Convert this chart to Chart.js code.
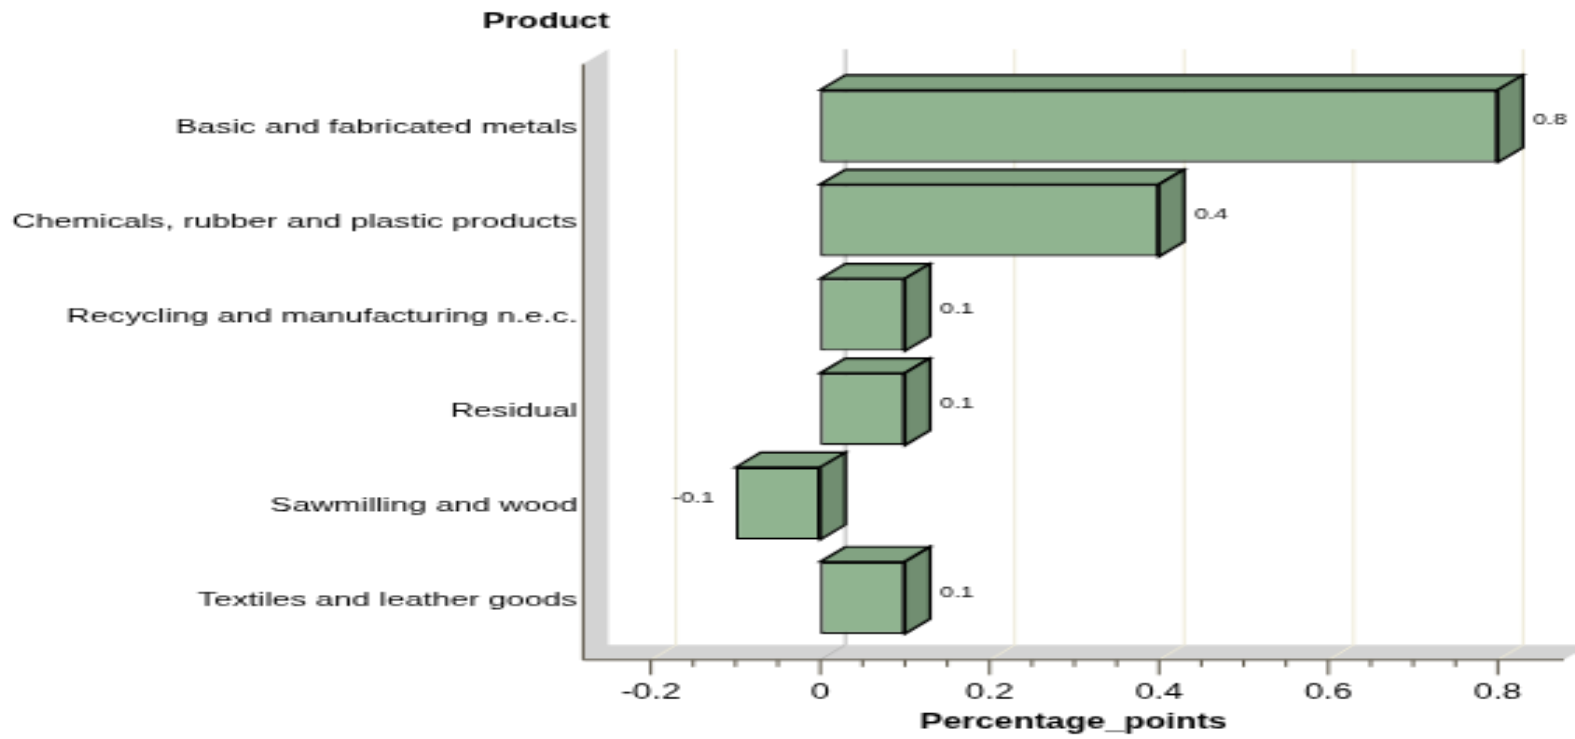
<!DOCTYPE html>
<html>
<head>
<meta charset="utf-8">
<title>Percentage points by product</title>
<script src="https://cdn.jsdelivr.net/npm/chart.js@4"></script>
<style>
  html, body { margin: 0; padding: 0; background: #fff; }
  html { overflow: hidden; }
  body { width: 1575px; height: 739px; }
  /* the original is a small image blown up unevenly, so the chart is drawn small and stretched */
  #stage { width: 563px; height: 422px; transform: scale(2.79751, 1.75118); transform-origin: 0 0; }
</style>
</head>
<body>
<div id="stage"><canvas id="bar-chart" width="563" height="422"></canvas></div>
<script>
const categories = [
  "Basic and fabricated metals",
  "Chemicals, rubber and plastic products",
  "Recycling and manufacturing n.e.c.",
  "Residual",
  "Sawmilling and wood",
  "Textiles and leather goods"
];
const values = [0.8, 0.4, 0.1, 0.1, -0.1, 0.1];
const xTicks = [-0.2, 0, 0.2, 0.4, 0.6, 0.8];
const xMinorStep = 0.05;
const yTitle = "Product";
const xTitle = "Percentage_points";

const fontFamily = "'Liberation Sans', Arial, sans-serif";
const depthX = 9;
const depthY = 8.5;
const axisColor = "#5c5648";
const edgeWidth = 1.2;

function roundTick(v) {
  return Math.round(v * 100) / 100;
}

function poly(ctx, pts, fill, stroke) {
  ctx.beginPath();
  pts.forEach(function (p, i) {
    if (i === 0) ctx.moveTo(p[0], p[1]); else ctx.lineTo(p[0], p[1]);
  });
  ctx.closePath();
  if (fill) { ctx.fillStyle = fill; ctx.fill(); }
  if (stroke) { ctx.strokeStyle = stroke; ctx.lineWidth = edgeWidth; ctx.stroke(); }
}

// wall, floor, back grid lines and the depth faces of the bars
const box3d = {
  id: "box3d",
  beforeDatasetsDraw: function (chart) {
    const ctx = chart.ctx;
    const area = chart.chartArea;
    const x = chart.scales.x;
    const axisY = area.bottom + depthY;
    ctx.save();

    poly(ctx, [
      [area.left, area.top - depthY],
      [area.left + depthX, area.top - depthY * 2],
      [area.left + depthX, area.bottom],
      [area.right + depthX, area.bottom],
      [area.right, axisY],
      [area.left, axisY]
    ], "#d3d3d3");

    xTicks.forEach(function (v) {
      const px = x.getPixelForValue(v);
      ctx.beginPath();
      ctx.moveTo(px, axisY);
      ctx.lineTo(px + depthX, area.bottom);
      ctx.lineTo(px + depthX, area.top - depthY * 2);
      ctx.strokeStyle = v === 0 ? "#b9b9b9" : "#eeead8";
      ctx.lineWidth = 1;
      ctx.stroke();
    });

    chart.getDatasetMeta(0).data.forEach(function (bar) {
      const left = Math.min(bar.x, bar.base);
      const right = Math.max(bar.x, bar.base);
      const top = bar.y - bar.height / 2;
      const bottom = bar.y + bar.height / 2;
      poly(ctx, [[left, top], [left + depthX, top - depthY], [right + depthX, top - depthY], [right, top]], "#82a382", "#000");
      poly(ctx, [[right, top], [right + depthX, top - depthY], [right + depthX, bottom - depthY], [right, bottom]], "#718e71", "#000");
    });
    ctx.restore();
  },
  afterDatasetsDraw: function (chart) {
    const ctx = chart.ctx;
    const area = chart.chartArea;
    const x = chart.scales.x;
    const axisY = area.bottom + depthY;
    ctx.save();

    // axis lines and tick marks sit on the front edge of the floor
    ctx.strokeStyle = axisColor;
    ctx.lineWidth = 1;
    ctx.beginPath();
    ctx.moveTo(area.left, area.top - depthY);
    ctx.lineTo(area.left, axisY);
    ctx.lineTo(area.right, axisY);
    ctx.stroke();

    x.ticks.forEach(function (t) {
      const v = roundTick(t.value);
      if (v < xTicks[0] || v > xTicks[xTicks.length - 1]) return;
      const px = x.getPixelForValue(v);
      ctx.beginPath();
      ctx.moveTo(px, axisY);
      ctx.lineTo(px, axisY + (xTicks.includes(v) ? 8.6 : 4));
      ctx.stroke();
    });

    // value labels next to the bars
    ctx.fillStyle = "#000";
    ctx.font = "8.7px " + fontFamily;
    ctx.textBaseline = "middle";
    chart.getDatasetMeta(0).data.forEach(function (bar, i) {
      if (values[i] < 0) {
        ctx.textAlign = "right";
        ctx.fillText(String(values[i]), bar.x - 7.6, bar.y - 3);
      } else {
        ctx.textAlign = "left";
        ctx.fillText(String(values[i]), bar.x + depthX + 3.6, bar.y - 3);
      }
    });

    ctx.font = "bold 12px " + fontFamily;
    ctx.textAlign = "left";
    ctx.fillText(yTitle, 172.4, 13);
    ctx.restore();
  }
};

new Chart(document.getElementById("bar-chart"), {
  type: "bar",
  data: {
    labels: categories,
    datasets: [{
      label: xTitle,
      data: values,
      backgroundColor: "#90b490",
      borderColor: "#000",
      borderWidth: edgeWidth,
      borderSkipped: false,
      barPercentage: 0.765,
      categoryPercentage: 1
    }]
  },
  options: {
    indexAxis: "y",
    responsive: false,
    animation: false,
    devicePixelRatio: 1,
    layout: { padding: { top: 45.1, right: 4, left: 0, bottom: 0 } },
    plugins: { legend: { display: false }, title: { display: false }, tooltip: { enabled: false } },
    scales: {
      x: {
        type: "linear",
        min: -0.28,
        max: 0.878,
        afterFit: function (s) { s.height = 53.7; s.paddingLeft = 0; s.paddingRight = 0; },
        grid: { display: false, drawTicks: false },
        border: { display: false },
        ticks: {
          stepSize: xMinorStep,
          autoSkip: false,
          maxRotation: 0,
          padding: 19.4,
          color: "#000",
          font: { family: fontFamily, size: 12.4 },
          callback: function (v) {
            const t = roundTick(v);
            return xTicks.includes(t) ? String(t) : "";
          }
        },
        title: {
          display: true,
          text: xTitle,
          color: "#000",
          font: { family: fontFamily, size: 12.3, weight: "bold" },
          padding: { top: 0, bottom: 1.7 }
        }
      },
      y: {
        afterFit: function (s) { s.width = 208.4; },
        grid: { display: false, drawTicks: false },
        border: { display: false },
        ticks: {
          autoSkip: false,
          padding: 2,
          labelOffset: 1,
          color: "#000",
          font: { family: fontFamily, size: 11.7 }
        }
      }
    }
  },
  plugins: [box3d]
});
</script>
</body>
</html>
